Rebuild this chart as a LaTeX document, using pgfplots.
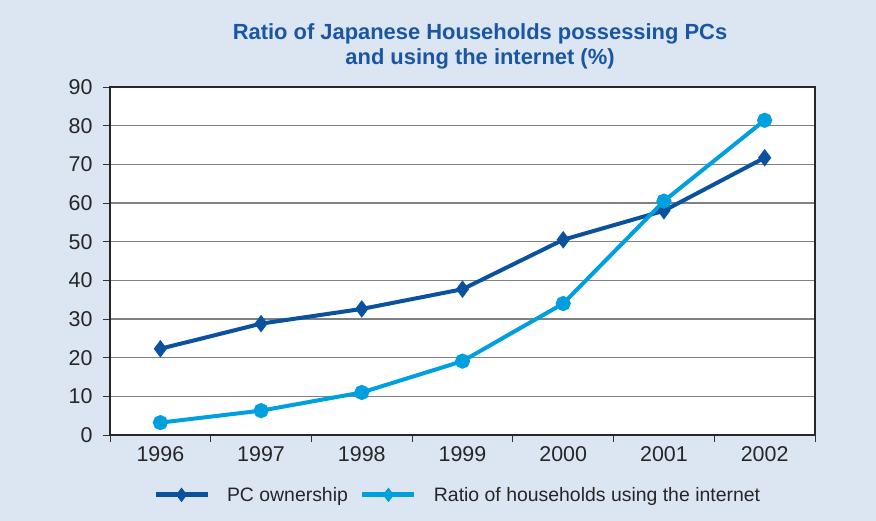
\documentclass[border=0pt]{standalone}
\usepackage{fontspec}
\setmainfont{Liberation Sans}
\usepackage{pgfplots}
\pgfplotsset{compat=1.18}
\definecolor{bgblue}{HTML}{DCE6F2}
\definecolor{pcblue}{HTML}{0A519E}
\definecolor{netblue}{HTML}{009FDD}
\definecolor{titleblue}{HTML}{1A56A2}
\definecolor{gridgray}{HTML}{808080}

\begin{document}
\begin{tikzpicture}
\fill[bgblue] (0,0) rectangle (876bp,521bp);
\node[font=\fontsize{22}{25}\selectfont\bfseries, text=titleblue, align=center]
  at (480bp,475bp) {Ratio of Japanese Households possessing PCs\\and using the internet (\%)};
\begin{axis}[
    at={(110bp,86bp)}, anchor=south west,
    scale only axis,
    width=705bp, height=348bp,
    xmin=0.5, xmax=7.5,
    ymin=0, ymax=90,
    xtick={1,...,7},
    xticklabels={1996,1997,1998,1999,2000,2001,2002},
    major x tick style={draw=none},
    minor xtick={0.5,1.5,...,7.5},
    ytick={0,10,...,90},
    tick align=outside, tick pos=left,
    major tick length=7bp, minor tick length=7bp,
    tick style={black!80, line width=1bp},
    ymajorgrids,
    grid style={gridgray, line width=1.5bp},
    axis line style={black!85, line width=2.4bp},
    axis background/.style={fill=white},
    ticklabel style={font=\fontsize{21.5}{24}\selectfont, text=black!85},
    /pgf/number format/assume math mode=true,
    yticklabel style={xshift=-7bp},
    xticklabel style={yshift=-1bp},
    legend style={at={(0.493,-0.172)}, anchor=center, draw=none, fill=none,
        legend columns=2, font=\fontsize{19.5}{22}\selectfont, text=black!85,
        /tikz/every odd column/.append style={column sep=15bp},
        /tikz/every even column/.append style={column sep=10bp}},
    legend image code/.code={
        \draw[#1, line width=5bp] (0bp,0bp) -- (52bp,0bp);
        \fill[#1] (26bp,4bp) -- (29bp,0bp) -- (26bp,-4bp) -- (23bp,0bp) -- cycle;
    },
]
\addplot[pcblue, line width=4bp, mark=diamond*, mark size=5.5bp,
    mark options={solid}] coordinates {
    (1,22.3) (2,28.8) (3,32.6) (4,37.7) (5,50.5) (6,58.0) (7,71.7)
};
\addlegendentry{PC ownership}
\addplot[netblue, line width=4bp, mark=*, mark size=5.5bp,
    mark options={solid}] coordinates {
    (1,3.2) (2,6.3) (3,11.0) (4,19.1) (5,34.0) (6,60.5) (7,81.4)
};
\addlegendentry{Ratio of households using the internet}
\end{axis}
\end{tikzpicture}
\end{document}
